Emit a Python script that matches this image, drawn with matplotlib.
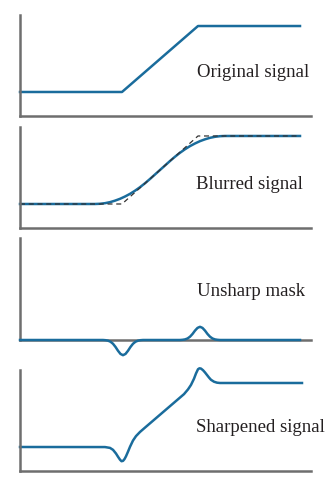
# unsharp masking figure
import matplotlib
matplotlib.use('Agg')
from matplotlib import pyplot as plt

# data (x in arbitrary units, levels: low = 0, high = 1)
orig_x = [0, 10.2, 17.8, 28]
orig_y = [0, 0, 1, 1]

blur_x = [0, 7.5, 8.0, 8.5, 9.0, 9.5, 10.0, 10.5, 11.0, 11.5, 12.0, 12.5, 13.0,
          13.5, 14.0, 14.5, 15.0, 15.5, 16.0, 16.5, 17.0, 17.5, 18.0, 18.5,
          19.0, 19.5, 20.0, 20.5, 28]
blur_y = [0, 0, 0.003, 0.012, 0.027, 0.049, 0.076, 0.110, 0.149, 0.195, 0.247,
          0.305, 0.368, 0.434, 0.5, 0.566, 0.632, 0.695, 0.753, 0.805, 0.851,
          0.890, 0.924, 0.951, 0.973, 0.988, 0.997, 1.0, 1.0]

mask_x = [0, 8.3, 8.55, 8.8, 9.05, 9.3, 9.55, 9.8, 10.05, 10.3, 10.55, 10.8,
          11.05, 11.3, 11.55, 11.8, 12.05, 12.3,
          16.0, 16.25, 16.5, 16.75, 17.0, 17.25, 17.5, 17.75, 18.0, 18.25,
          18.5, 18.75, 19.0, 19.25, 19.5, 19.75, 20.0, 28]
mask_y = [0, 0, -0.003, -0.010, -0.026, -0.057, -0.105, -0.163, -0.211, -0.23,
          -0.211, -0.163, -0.105, -0.057, -0.026, -0.010, -0.003, 0,
          0, 0.003, 0.009, 0.023, 0.050, 0.091, 0.142, 0.183, 0.2, 0.183,
          0.142, 0.091, 0.050, 0.023, 0.009, 0.003, 0, 0]

sharp_x = [0, 8.5, 9.0, 9.3, 9.6, 9.8, 10.0, 10.15, 10.3, 10.45, 10.6, 10.8,
           11.0, 11.3, 11.6, 12.0, 12.5, 16.4, 16.8, 17.1, 17.4, 17.6, 17.8,
           17.95, 18.1, 18.3, 18.5, 18.7, 18.9, 19.1, 19.4, 19.7, 20.0, 28.2]
sharp_y = [0, -0.001, -0.014, -0.044, -0.102, -0.152, -0.198, -0.222, -0.217,
           -0.189, -0.145, -0.073, 0.003, 0.101, 0.170, 0.235, 0.303, 0.826,
           0.90, 0.97, 1.067, 1.149, 1.215, 1.23, 1.225, 1.20, 1.165, 1.125,
           1.085, 1.05, 1.02, 1.005, 1.0, 1.0]

labels = ['Original signal', 'Blurred signal', 'Unsharp mask', 'Sharpened signal']

BLUE = '#1a6c9c'
W, H = 334, 480


def px_axes(fig, top, bottom, left=20, right=311):
    return fig.add_axes([left / W, 1 - bottom / H, (right - left) / W, (bottom - top) / H])


def style(ax, ylim):
    ax.set_xlim(0, 29.1)
    ax.set_ylim(*ylim)
    for s in ['top', 'right']:
        ax.spines[s].set_visible(False)
    for s in ['left', 'bottom']:
        ax.spines[s].set_color('#6e6e6e')
        ax.spines[s].set_linewidth(1.8)
    ax.set_xticks([])
    ax.set_yticks([])


fig = plt.figure(figsize=(W / 100, H / 100), dpi=100)
font = dict(family='Liberation Serif', fontsize=13.5, color='#231f20', ha='left', va='center')

ax1 = px_axes(fig, 15, 116)
style(ax1, (-0.364, 1.167))
ax1.plot(orig_x, orig_y, color=BLUE, lw=1.8, clip_on=False)
ax1.text(17.7, 0.29, labels[0], **font)

ax2 = px_axes(fig, 127, 228)
style(ax2, (-0.353, 1.132))
ax2.plot(blur_x, blur_y, color=BLUE, lw=1.8, clip_on=False)
ax2.plot(orig_x, orig_y, color='#333333', lw=0.9, ls=(0, (4, 3)), clip_on=False)
ax2.text(17.6, 0.28, labels[1], **font)

ax3 = px_axes(fig, 238, 340)
style(ax3, (0, 1.545))
ax3.plot(mask_x, mask_y, color=BLUE, lw=1.8, clip_on=False, zorder=3)
ax3.text(17.7, 0.74, labels[2], **font)

ax4 = px_axes(fig, 370, 471)
style(ax4, (-0.375, 1.203))
ax4.plot(sharp_x, sharp_y, color=BLUE, lw=1.8, clip_on=False)
ax4.text(17.6, 0.30, labels[3], **font)

fig.savefig('out.png', dpi=100)
